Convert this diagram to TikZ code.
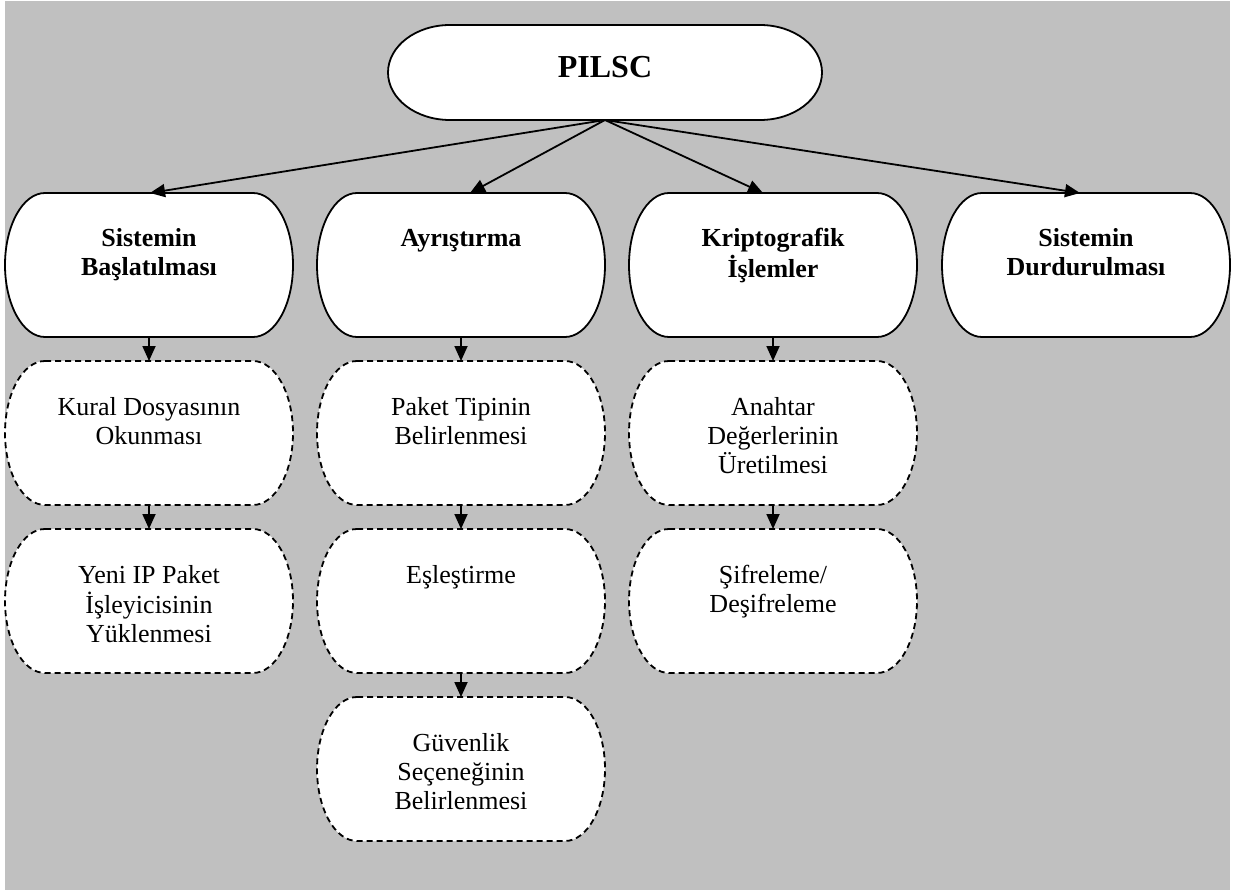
\documentclass[tikz,border=0pt]{standalone}
\usepackage{fontspec}
\setmainfont{Liberation Serif}
\usetikzlibrary{arrows.meta}

% Capsule outline: flat top and bottom, elliptic ends
\newdimen\capL \newdimen\capR \newdimen\capT \newdimen\capB
\newdimen\capRX \newdimen\capRY
\pgfkeys{/tikz/capsule rx/.initial=40pt}
\makeatletter
\pgfdeclareshape{capsule}{%
  \inheritsavedanchors[from=rectangle]%
  \inheritanchorborder[from=rectangle]%
  \inheritanchor[from=rectangle]{center}%
  \inheritanchor[from=rectangle]{north}%
  \inheritanchor[from=rectangle]{south}%
  \inheritanchor[from=rectangle]{east}%
  \inheritanchor[from=rectangle]{west}%
  \inheritanchor[from=rectangle]{north east}%
  \inheritanchor[from=rectangle]{north west}%
  \inheritanchor[from=rectangle]{south east}%
  \inheritanchor[from=rectangle]{south west}%
  \inheritanchor[from=rectangle]{base}%
  \inheritanchor[from=rectangle]{mid}%
  \backgroundpath{%
    \southwest \capL=\pgf@x \capB=\pgf@y
    \northeast \capR=\pgf@x \capT=\pgf@y
    \pgfmathsetlength\capRX{\pgfkeysvalueof{/tikz/capsule rx}}%
    \capRY=\capT \advance\capRY by -\capB \divide\capRY by 2
    \pgfpathmoveto{\pgfqpoint{\dimexpr\capL+\capRX\relax}{\capT}}%
    \pgfpathlineto{\pgfqpoint{\dimexpr\capR-\capRX\relax}{\capT}}%
    \pgfpatharc{90}{-90}{\capRX and \capRY}%
    \pgfpathlineto{\pgfqpoint{\dimexpr\capL+\capRX\relax}{\capB}}%
    \pgfpatharc{270}{90}{\capRX and \capRY}%
    \pgfpathclose
  }%
}
\makeatother

% lines stacked with the first baseline as reference
\newcommand\stacklines[1]{\begin{tabular}[t]{@{}c@{}}#1\end{tabular}}

\definecolor{bggray}{RGB}{192,192,192}

\tikzset{
  every node/.style={inner sep=0pt, outer sep=0pt},
  box/.style={shape=capsule, draw, fill=white, line width=1.8pt,
    minimum width=288pt, text height=54pt, text depth=90pt,
    font=\fontsize{26}{29}\selectfont},
  mainbox/.style={box, font=\fontsize{26}{29}\selectfont\bfseries},
  subbox/.style={box, dash pattern=on 6pt off 4pt},
  rootbox/.style={box, minimum width=434pt, capsule rx=62pt,
    text height=53pt, text depth=42pt,
    font=\fontsize{32}{38}\selectfont\bfseries},
  link/.style={line width=1.8pt, -{Triangle[length=15pt,width=13pt]}},
}

\begin{document}
\begin{tikzpicture}[x=1pt, y=-1pt]
\useasboundingbox (0,0) rectangle (1241,890);
\fill[bggray] (5,1) rectangle (1230,890);

% root
\node[rootbox] (root) at (605,72.5) {PILSC};

% first level
\node[mainbox] (b1) at (149,265)  {\stacklines{Sistemin\\Başlatılması}};
\node[mainbox] (b2) at (461,265)  {\stacklines{Ayrıştırma}};
\node[mainbox] (b3) at (773,265)  {\stacklines{Kriptografik\\İşlemler}};
\node[mainbox] (b4) at (1086,265) {\stacklines{Sistemin\\Durdurulması}};

% sub-steps
\node[subbox] (s11) at (149,433) {\stacklines{Kural Dosyasının\\Okunması}};
\node[subbox] (s12) at (149,601) {\stacklines{Yeni IP Paket\\İşleyicisinin\\Yüklenmesi}};

\node[subbox] (s21) at (461,433) {\stacklines{Paket Tipinin\\Belirlenmesi}};
\node[subbox] (s22) at (461,601) {\stacklines{Eşleştirme}};
\node[subbox] (s23) at (461,769) {\stacklines{Güvenlik\\Seçeneğinin\\Belirlenmesi}};

\node[subbox] (s31) at (773,433) {\stacklines{Anahtar\\Değerlerinin\\Üretilmesi}};
\node[subbox] (s32) at (773,601) {\stacklines{Şifreleme/\\Deşifreleme}};

% connectors from the root
\draw[link] (root.south) -- ([xshift=1pt]b1.north);
\draw[link] (root.south) -- ([xshift=9pt]b2.north);
\draw[link] (root.south) -- ([xshift=-10pt]b3.north);
\draw[link] (root.south) -- ([xshift=-6pt]b4.north);

% connectors down each column
\draw[link] (b1.south) -- (s11.north);
\draw[link] (s11.south) -- (s12.north);
\draw[link] (b2.south) -- (s21.north);
\draw[link] (s21.south) -- (s22.north);
\draw[link] (s22.south) -- (s23.north);
\draw[link] (b3.south) -- (s31.north);
\draw[link] (s31.south) -- (s32.north);
\end{tikzpicture}
\end{document}
